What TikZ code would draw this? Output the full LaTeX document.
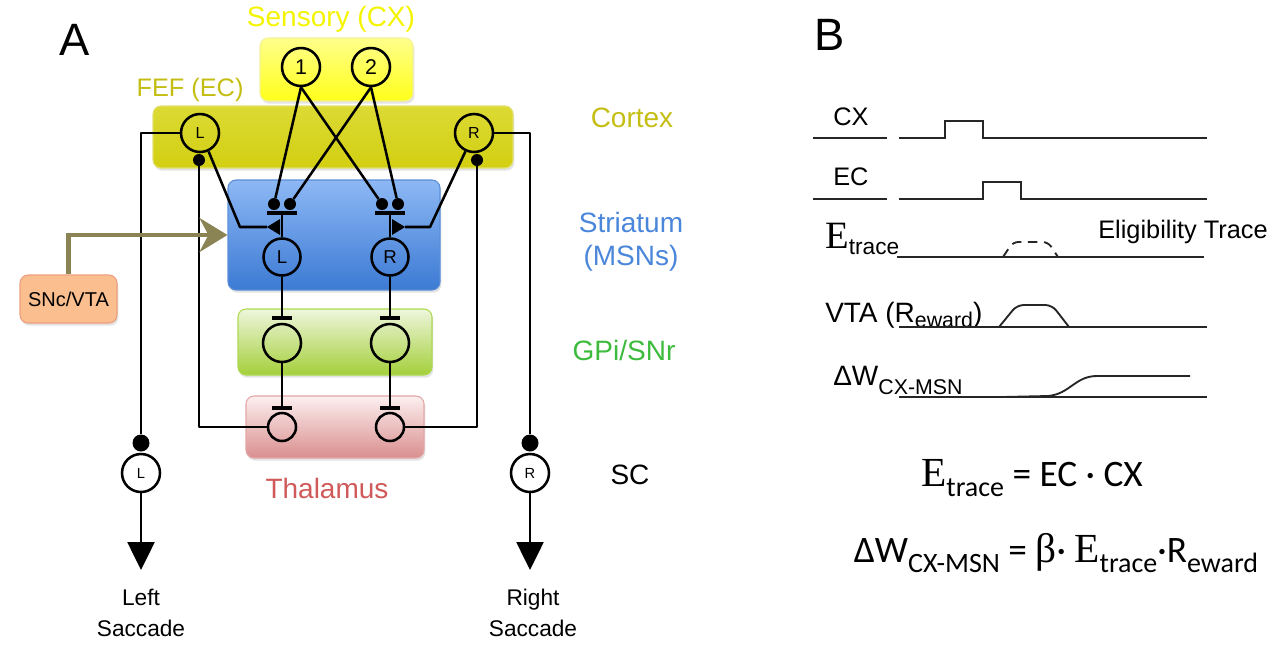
\documentclass[tikz,border=0pt]{standalone}
\usepackage{fontspec}
\setmainfont{Liberation Sans}
\newfontfamily\serifE{Liberation Serif}
\newfontfamily\calibri{Carlito}
\usepackage{xcolor}
\definecolor{cSens}{HTML}{FFFF1A}
\definecolor{cSensTop}{HTML}{FFFF8C}
\definecolor{cSensLine}{HTML}{F2F29A}
\definecolor{cSensTxt}{HTML}{F4F400}
\definecolor{cCtx}{HTML}{D2CF12}
\definecolor{cCtxTop}{HTML}{DCDA34}
\definecolor{cCtxLine}{HTML}{E2E070}
\definecolor{cCtxTxt}{HTML}{C4BE14}
\definecolor{cStr}{HTML}{3C7AD4}
\definecolor{cStrTop}{HTML}{8DB8F4}
\definecolor{cStrLine}{HTML}{5B8FD8}
\definecolor{cStrTxt}{HTML}{4A86DA}
\definecolor{cGpi}{HTML}{A4CF3A}
\definecolor{cGpiTop}{HTML}{EEF6DC}
\definecolor{cGpiLine}{HTML}{AEDA50}
\definecolor{cGpiTxt}{HTML}{3DBB3D}
\definecolor{cThal}{HTML}{DA8E8E}
\definecolor{cThalTop}{HTML}{FCEFEF}
\definecolor{cThalLine}{HTML}{E4A6A6}
\definecolor{cThalTxt}{HTML}{D05A5A}
\definecolor{cSNc}{HTML}{FBBE8E}
\definecolor{cSNcLine}{HTML}{EE9E80}
\definecolor{cDA}{HTML}{8A8455}
\usepackage{tikz}
\usetikzlibrary{positioning,arrows.meta,calc,shadows}
\tikzset{
  region/.style 2 args={rounded corners=6pt,line width=0.8pt,inner sep=0pt,
    minimum width=#1*0.75pt,minimum height=#2*0.75pt,
    drop shadow={opacity=0.22,shadow xshift=1pt,shadow yshift=-2pt}},
  neuron/.style={circle,draw,line width=1.9pt,inner sep=0pt,
    minimum size=#1*0.75pt},
  neuron/.default=38,
  syn-dot/.style={circle,fill,inner sep=0pt,minimum size=#1*0.75pt},
  syn-dot/.default=12,
  wire/.style={line width=1.9pt,line join=round},
  inh-bar/.style={line width=2.6pt},
  arrow-out/.style={wire,-{Triangle[length=28*0.75pt,width=27*0.75pt]}},
  arrow-da/.style={line width=3.4pt,draw=cDA,
    -{Stealth[length=28*0.75pt,width=34*0.75pt,inset=9*0.75pt]}},
  area-lbl/.style={font=\fontsize{21}{25}\selectfont,align=center},
  trace/.style={line width=1.4pt,draw=black!85},
  trace-lbl/.style={font=\fontsize{19}{19}\selectfont,anchor=base west,inner sep=0pt},
}

\begin{document}
\begin{tikzpicture}[x=0.75pt,y=-0.75pt]
  \useasboundingbox (0,0) rectangle (1287,651);
  % panel letters
  \node[font=\fontsize{34}{34}\selectfont] (lblA) at (75,40) {A};
  \node[font=\fontsize{34}{34}\selectfont] (lblB) at (830,35) {B};

  % brain areas
  \node[region={153}{63},top color=cSensTop,bottom color=cSens,draw=cSensLine] (sens) at (336.5,69.5) {};
  \node[region={360}{62},top color=cCtxTop,bottom color=cCtx,draw=cCtxLine] (ctx) at (333,137) {};
  \node[region={212}{110},top color=cStrTop,bottom color=cStr,draw=cStrLine] (str) at (334,235) {};
  \node[region={194}{66},top color=cGpiTop,bottom color=cGpi,draw=cGpiLine] (gpi) at (335,342) {};
  \node[region={178}{62},top color=cThalTop,bottom color=cThal,draw=cThalLine] (thal) at (335,427) {};
  \node[region={97}{48},fill=cSNc,draw=cSNcLine,font=\fontsize{15}{15}\selectfont] (snc) at (68.5,299) {SNc/VTA};

  \node[area-lbl,text=cSensTxt] (sensLbl) at (331,19) {Sensory (CX)};
  \node[area-lbl,text=cCtxTxt,font=\fontsize{19}{19}\selectfont] (fefLbl) at (190,90) {FEF (EC)};
  \node[area-lbl,text=cCtxTxt] (ctxLbl) at (632,118) {Cortex};
  \node[area-lbl,text=cStrTxt] (strLbl) at (631,242) {Striatum\\(MSNs)};
  \node[area-lbl,text=cGpiTxt] (gpiLbl) at (624,350) {GPi/SNr};
  \node[area-lbl,text=cThalTxt] (thalLbl) at (327,488) {Thalamus};
  \node[area-lbl] (scLbl) at (630,475) {SC};

  % neurons
  \node[neuron,font=\fontsize{16}{16}\selectfont] (n1) at (301,67) {1};
  \node[neuron,font=\fontsize{16}{16}\selectfont] (n2) at (371,67) {2};
  \node[neuron,font=\fontsize{12}{12}\selectfont] (ctxL) at (200,133) {L};
  \node[neuron,font=\fontsize{12}{12}\selectfont] (ctxR) at (474,133) {R};
  \node[neuron=37,font=\fontsize{14}{14}\selectfont] (msnL) at (282,257) {L};
  \node[neuron=37,font=\fontsize{14}{14}\selectfont] (msnR) at (390,257) {R};
  \node[neuron] (gpiL) at (282,343) {};
  \node[neuron] (gpiR) at (390,343) {};
  \node[neuron=28] (thalL) at (282,427) {};
  \node[neuron=28] (thalR) at (390,427) {};
  \node[neuron,font=\fontsize{11}{11}\selectfont] (scL) at (141,473) {L};
  \node[neuron,font=\fontsize{11}{11}\selectfont] (scR) at (530,473) {R};

  % synapses on the MSNs
  \node[syn-dot] (dL1) at (274,204) {};
  \node[syn-dot] (dL2) at (290,204) {};
  \node[syn-dot] (dR1) at (382,204) {};
  \node[syn-dot] (dR2) at (398,204) {};
  \coordinate (barL) at (282,213);
  \coordinate (barR) at (390,213);
  \coordinate (tipL) at (267,227);
  \coordinate (tipR) at (405,227);
  \draw[inh-bar] ($(barL)+(-15,0)$) -- ($(barL)+(15,0)$);
  \draw[inh-bar] ($(barR)+(-15,0)$) -- ($(barR)+(15,0)$);
  \draw[wire] (barL) -- (msnL.north);
  \draw[wire] (barR) -- (msnR.north);
  \fill (tipL) -- ++(13,-8) -- ++(0,16) -- cycle;
  \fill (tipR) -- ++(-13,-8) -- ++(0,16) -- cycle;

  % sensory input
  \draw[wire] (n1.south) -- (dL1);
  \draw[wire] (n1.south) -- (dR1);
  \draw[wire] (n2.south) -- (dL2);
  \draw[wire] (n2.south) -- (dR2);

  % FEF to MSN
  \draw[wire] (ctxL.-65) -- (240,227) -- (tipL);
  \draw[wire] (ctxR.-115) -- (430,227) -- (tipR);

  % inhibition down the loop
  \coordinate (inhGL) at (282,318);
  \coordinate (inhGR) at (390,318);
  \coordinate (inhTL) at (282,408);
  \coordinate (inhTR) at (390,408);
  \draw[wire] (msnL.south) -- (inhGL);
  \draw[wire] (msnR.south) -- (inhGR);
  \draw[wire] (gpiL.south) -- (inhTL);
  \draw[wire] (gpiR.south) -- (inhTR);
  \foreach \p in {inhGL,inhGR,inhTL,inhTR}
    \draw[inh-bar] ($(\p)+(-10,0)$) -- ($(\p)+(10,0)$);

  % thalamus back to FEF
  \node[syn-dot] (dCL) at (199,160) {};
  \node[syn-dot] (dCR) at (477,160) {};
  \draw[wire] (thalL.west) -| (dCL);
  \draw[wire] (thalR.east) -| (dCR);

  % FEF to SC
  \node[syn-dot=17] (dSL) at (141,443) {};
  \node[syn-dot=17] (dSR) at (530,443) {};
  \draw[wire] (ctxL.west) -| (dSL);
  \draw[wire] (ctxR.east) -| (dSR);
  \coordinate (outL) at (141,570);
  \coordinate (outR) at (530,570);
  \draw[arrow-out] (scL) -- (outL);
  \draw[arrow-out] (scR) -- (outR);
  \node[font=\fontsize{17}{23}\selectfont,align=center] (sacL) at (141,613) {Left\\Saccade};
  \node[font=\fontsize{17}{23}\selectfont,align=center] (sacR) at (533,613) {Right\\Saccade};

  % dopamine
  \draw[arrow-da] (snc.north) |- (str.west);

  % panel B: traces
  \node[trace-lbl] (tCX) at (833,125) {CX};
  \draw[trace] (813,138) -- (887,138);
  \draw[trace] (899,138) -- (945,138) -- (945,121) -- (983,121) -- (983,138) -- (1207,138);
  \node[trace-lbl] (tEC) at (833,185) {EC};
  \draw[trace] (813,199) -- (887,199);
  \draw[trace] (899,199) -- (983,199) -- (983,182) -- (1021,182) -- (1021,199) -- (1207,199);
  \node[trace-lbl] (tE) at (825,248) {{\serifE\fontsize{29}{29}\selectfont E}\raisebox{-5pt}{\fontsize{17}{17}\selectfont trace}};
  \draw[trace] (897,257) -- (1204,257);
  \draw[trace,dash pattern=on 7pt off 5pt,rounded corners=4pt] (1003,257) -- (1013,242) -- (1048,242) -- (1058,257);
  \node[font=\fontsize{19}{19}\selectfont] (elig) at (1183,232) {Eligibility Trace};
  \node[trace-lbl,font=\fontsize{21}{21}\selectfont] (tV) at (825,322) {VTA (R\raisebox{-4pt}{\fontsize{16}{16}\selectfont eward})};
  \draw[trace] (899,327) -- (1207,327);
  \draw[trace,rounded corners=5pt] (999,327) -- (1017,305) -- (1052,305) -- (1069,327);
  \node[trace-lbl,font=\fontsize{21}{21}\selectfont] (tW) at (833,385) {ΔW\raisebox{-7pt}{\fontsize{16}{16}\selectfont CX-MSN}};
  \draw[trace] (899,397) -- (1207,397);
  \draw[trace] (1003,397) -- (1048,396) .. controls (1070,394) and (1075,376) .. (1097,376) -- (1190,376);

  % panel B: equations
  \node[font=\calibri\fontsize{28}{28}\selectfont] (eq1) at (1032,478)
    {{\serifE\fontsize{31}{31}\selectfont E}\raisebox{-7pt}{\fontsize{21}{21}\selectfont trace} = EC · CX};
  \node[font=\calibri\fontsize{28}{28}\selectfont] (eq2) at (1056,553)
    {ΔW\raisebox{-7pt}{\fontsize{21}{21}\selectfont CX-MSN} = {\serifE\fontsize{31}{31}\selectfont β}· {\serifE\fontsize{31}{31}\selectfont E}\raisebox{-7pt}{\fontsize{21}{21}\selectfont trace}·R\raisebox{-7pt}{\fontsize{21}{21}\selectfont eward}};
\end{tikzpicture}
\end{document}
